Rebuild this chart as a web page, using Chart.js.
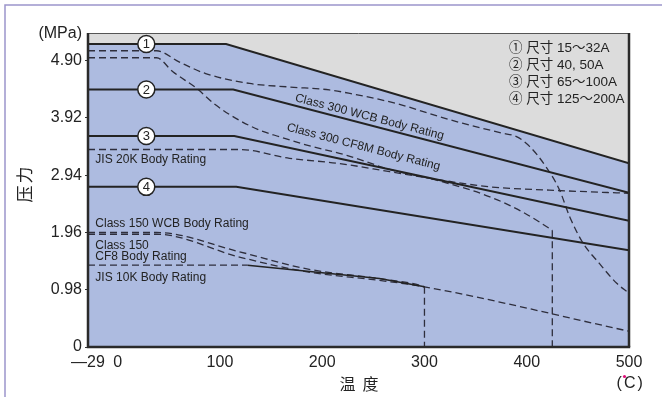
<!DOCTYPE html>
<html><head><meta charset="utf-8">
<script src="https://cdn.jsdelivr.net/npm/chart.js@4"></script>
<style>html,body{margin:0;padding:0;background:#fff;}#wrap{width:662px;height:397px;position:relative;}</style>
</head><body><div id="wrap"><canvas id="c" width="662" height="397"></canvas></div>
<script>
// ---- tick labels ----
const xTicks = [-29, 0, 100, 200, 300, 400, 500];
const xTickLabels = ['—29', '0', '100', '200', '300', '400', '500'];
const yTicks = [0, 0.98, 1.96, 2.94, 3.92, 4.90];
const yTickLabels = ['0', '0.98', '1.96', '2.94', '3.92', '4.90'];

// ---- valve size ratings (solid) [°C, MPa] ----
const size1 = [[-29, 5.186], [106, 5.186], [500, 3.142]];
const size2 = [[-29, 4.406], [113, 4.406], [500, 2.638]];
const size3 = [[-29, 3.610], [114, 3.610], [500, 2.159]];
const size4 = [[-29, 2.741], [116, 2.741], [500, 1.657]];

// ---- body ratings (dashed) ----
const cls300WCB = [[-29, 5.07], [38, 5.07], [60, 4.88], [86, 4.68], [129, 4.51], [168, 4.45], [207, 4.40], [227, 4.34], [272, 4.17], [315, 3.94], [337, 3.83], [376, 3.66], [390, 3.60], [403, 3.43], [419, 3.08], [432, 2.69], [442, 2.23], [455, 1.78], [471, 1.43], [488, 1.09], [500, 0.92]];
const cls300CF8M = [[-29, 4.95], [38, 4.95], [54, 4.71], [77, 4.43], [96, 4.14], [119, 3.88], [139, 3.71], [158, 3.60], [184, 3.46], [224, 3.28], [266, 3.04], [315, 2.84], [364, 2.57], [396, 2.31], [425, 2.00]];
const jis20K = [[-29, 3.38], [119, 3.38], [168, 3.23], [217, 3.14], [266, 3.00], [315, 2.86], [364, 2.74], [422, 2.685], [500, 2.63]];
const cls150WCB = [[-29, 1.96], [38, 1.96], [119, 1.63], [184, 1.34], [256, 1.17], [295, 1.06], [300, 1.03]];
const cls150CF8 = [[-29, 1.93], [38, 1.93], [119, 1.54], [184, 1.29], [256, 1.14], [300, 1.03], [500, 0.27]];
const jis10KFlat = [[-29, 1.40], [127, 1.40]];
const jis10KSlope = [[127, 1.40], [256, 1.172], [300, 1.03]];
const cutoff300 = [[300, 1.03], [300, 0]];
const cutoff425 = [[425, 2.00], [425, 0]];

// ---- size markers ----
const sizeMarkers = [[28, 5.186], [28, 4.406], [28, 3.610], [28, 2.741]];
const sizeMarkerLabels = ['1', '2', '3', '4'];
const legendLines = ['① 尺寸 15～32A', '② 尺寸 40, 50A', '③ 尺寸 65～100A', '④ 尺寸 125～200A'];
const curveLabels = ['Class 300 WCB Body Rating', 'Class 300 CF8M Body Rating', 'JIS 20K Body Rating', 'Class 150 WCB Body Rating', 'Class 150', 'CF8 Body Rating', 'JIS 10K Body Rating'];

const pts = a => a.map(p => ({x: p[0], y: p[1]}));
const DARK = '#232323';
const DASHC = '#2e2e3c';
const solid = (d, extra) => Object.assign({data: pts(d), borderColor: DARK, borderWidth: 2, pointRadius: 0, tension: 0, fill: false, order: 1}, extra || {});
const dashed = d => ({data: pts(d), borderColor: DASHC, borderWidth: 1.3, borderDash: [7, 4], pointRadius: 0, cubicInterpolationMode: 'monotone', fill: false, order: 2});
const dashedStraight = d => ({data: pts(d), borderColor: DASHC, borderWidth: 1.3, borderDash: [7, 4], pointRadius: 0, tension: 0, fill: false, order: 2});

const labelAnchors = [
  {x: 246.3, y: 3.935, rot: 14.5, align: 'center'},
  {x: 240.4, y: 3.421, rot: 14.5, align: 'center'},
  {x: -21.8, y: 3.199, rot: 0, align: 'left'},
  {x: -21.8, y: 2.114, rot: 0, align: 'left'},
  {x: -21.8, y: 1.742, rot: 0, align: 'left'},
  {x: -21.8, y: 1.554, rot: 0, align: 'left'},
  {x: -21.8, y: 1.189, rot: 0, align: 'left'}
];

const deco = {
  id: 'deco',
  beforeDraw(chart) {
    const {ctx, chartArea: a} = chart;
    ctx.save();
    ctx.fillStyle = '#fff';
    ctx.fillRect(0, 0, chart.width, chart.height);
    ctx.strokeStyle = '#9c95cb';
    ctx.lineWidth = 1.5;
    ctx.beginPath(); ctx.moveTo(5, chart.height); ctx.lineTo(5, 5); ctx.lineTo(chart.width, 5); ctx.stroke();
    ctx.fillStyle = '#dcdcdc';
    ctx.fillRect(a.left, a.top, a.right - a.left, a.bottom - a.top);
    ctx.restore();
  },
  afterDatasetsDraw(chart) {
    const {ctx, chartArea: a, scales: {x, y}} = chart;
    ctx.save();
    // frame
    ctx.strokeStyle = '#555'; ctx.lineWidth = 1;
    ctx.beginPath(); ctx.moveTo(a.left, a.top + 0.5); ctx.lineTo(a.right, a.top + 0.5); ctx.stroke();
    ctx.strokeStyle = '#2a2a2a'; ctx.lineWidth = 2.5;
    ctx.beginPath(); ctx.moveTo(a.right, a.top); ctx.lineTo(a.right, a.bottom); ctx.stroke();
    ctx.beginPath(); ctx.moveTo(a.left, a.top); ctx.lineTo(a.left, a.bottom); ctx.lineTo(a.right + 1.2, a.bottom); ctx.stroke();
    // marker numbers
    ctx.fillStyle = DARK;
    ctx.font = '13px "Liberation Sans"';
    ctx.textAlign = 'center'; ctx.textBaseline = 'middle';
    sizeMarkers.forEach((p, i) => {
      ctx.fillText(sizeMarkerLabels[i], x.getPixelForValue(p[0]), y.getPixelForValue(p[1]) + 0.5);
    });
    // curve labels
    ctx.font = '12px "Liberation Sans"';
    curveLabels.forEach((t, i) => {
      const an = labelAnchors[i];
      ctx.save();
      ctx.translate(x.getPixelForValue(an.x), y.getPixelForValue(an.y));
      ctx.rotate(an.rot * Math.PI / 180);
      ctx.textAlign = an.align; ctx.textBaseline = 'middle';
      ctx.fillText(t, 0, 0);
      ctx.restore();
    });
    // legend lines
    ctx.font = '13.5px "Liberation Sans", "Noto Sans CJK SC"';
    ctx.textAlign = 'left'; ctx.textBaseline = 'middle';
    legendLines.forEach((t, i) => ctx.fillText(t, a.right - 120, a.top + 15 + i * 17));
    ctx.restore();
  },
  afterDraw(chart) {
    const {ctx, chartArea: a} = chart;
    ctx.save();
    ctx.fillStyle = DARK;
    ctx.font = '16px "Liberation Sans"';
    ctx.textAlign = 'right'; ctx.textBaseline = 'middle';
    ctx.fillText('(MPa)', a.left - 6, a.top + 1);
    // y title
    ctx.font = '17px "Noto Sans CJK SC"';
    ctx.save();
    ctx.translate(25, 184.5);
    ctx.rotate(-Math.PI / 2);
    ctx.textAlign = 'center';
    ctx.fillText('压', -9.5, 0);
    ctx.fillText('力', 9.5, 0);
    ctx.restore();
    // x title
    ctx.font = '16px "Noto Sans CJK SC"';
    ctx.textAlign = 'center';
    ctx.fillText('温', 347.5, 383.5);
    ctx.fillText('度', 370.5, 383.5);
    ctx.font = '16px "Liberation Sans"';
    ctx.textAlign = 'left';
    ctx.fillText('(', 616.5, 383.5);
    ctx.fillText('C', 624, 383.5);
    ctx.fillText(')', 637.5, 383.5);
    ctx.fillStyle = '#e0107a';
    ctx.beginPath(); ctx.arc(624.5, 376.5, 1.6, 0, Math.PI * 2); ctx.fill();
    ctx.restore();
  }
};

new Chart(document.getElementById('c'), {
  type: 'line',
  data: {
    datasets: [
      solid(size1, {fill: 'origin', backgroundColor: '#adbbe0', order: 10}),
      solid(size2), solid(size3), solid(size4),
      dashed(cls300WCB), dashed(cls300CF8M), dashed(jis20K),
      dashed(cls150WCB), dashed(cls150CF8),
      dashedStraight(jis10KFlat), solid(jis10KSlope, {borderWidth: 1.6}),
      dashedStraight(cutoff300), dashedStraight(cutoff425),
      {type: 'scatter', data: pts(sizeMarkers), pointRadius: 8.5, pointBackgroundColor: '#fff', pointBorderColor: DARK, pointBorderWidth: 1.5, showLine: false, order: -1}
    ]
  },
  options: {
    responsive: false, animation: false, devicePixelRatio: 1,
    layout: {padding: {top: 33, right: 33, left: 0, bottom: 0}},
    plugins: {legend: {display: false}, tooltip: {enabled: false}},
    scales: {
      x: {
        type: 'linear', min: -29, max: 500,
        afterBuildTicks: s => { s.ticks = xTicks.map(v => ({value: v})); },
        afterFit: s => { s.height = 50; },
        grid: {display: false, drawTicks: false},
        border: {display: false},
        ticks: {autoSkip: false, maxRotation: 0, padding: 6, color: DARK, font: {family: 'Liberation Sans', size: 16},
          callback: (v, i) => xTickLabels[i]}
      },
      y: {
        type: 'linear', min: 0, max: 5.374,
        afterBuildTicks: s => { s.ticks = yTicks.map(v => ({value: v})); },
        afterFit: s => { s.width = 88; },
        grid: {display: true, drawOnChartArea: false, drawTicks: true, tickLength: 3, color: '#333', lineWidth: 1},
        border: {display: false},
        ticks: {autoSkip: false, padding: 3, color: DARK, font: {family: 'Liberation Sans', size: 16},
          callback: (v, i) => yTickLabels[i]}
      }
    }
  },
  plugins: [deco]
});
</script></body></html>
